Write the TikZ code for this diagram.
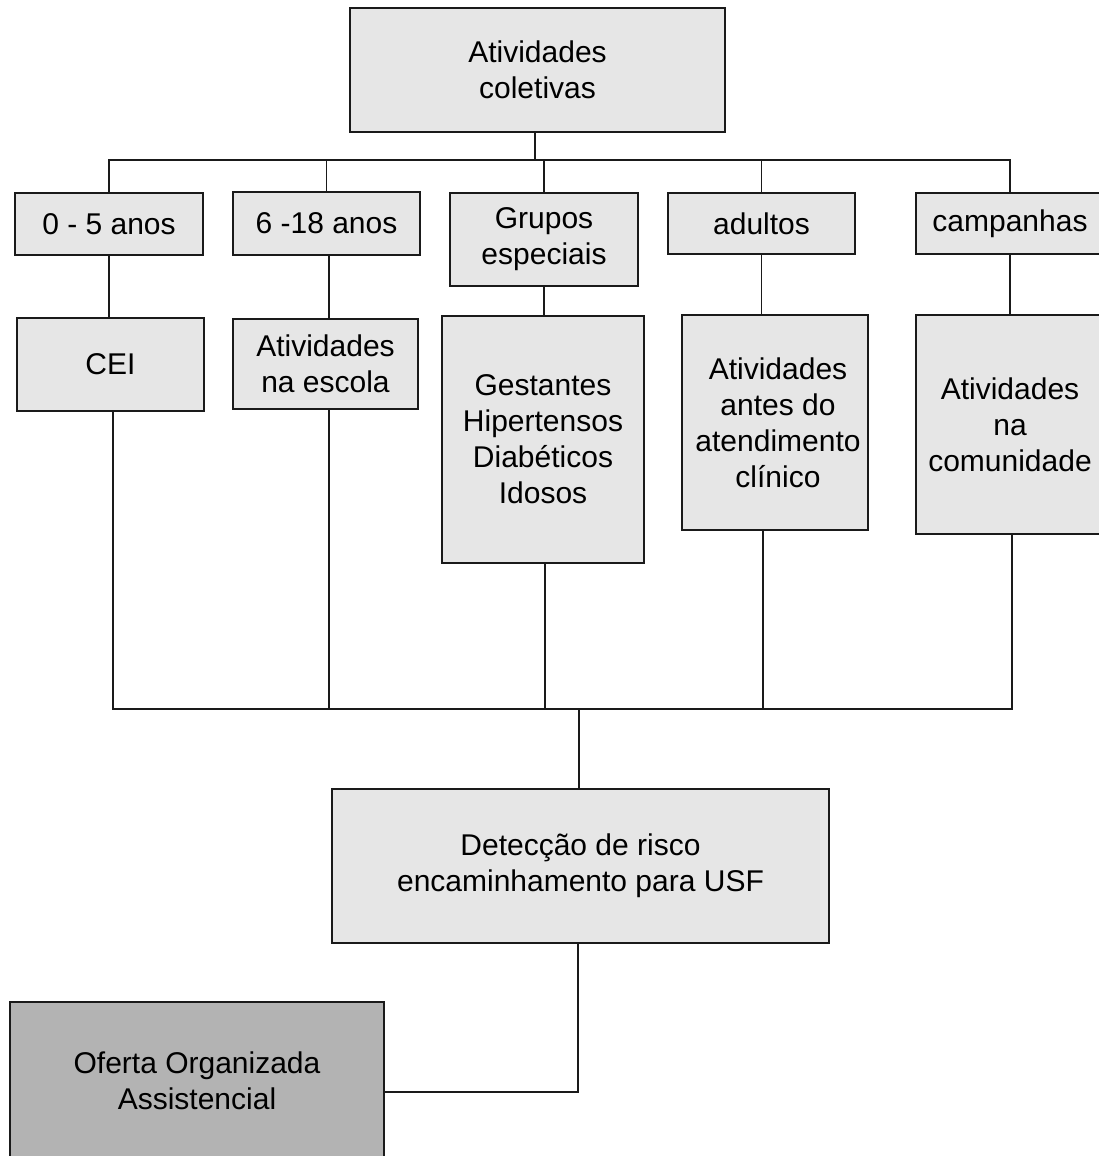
\documentclass[tikz,border=0pt]{standalone}
\usepackage{fontspec}
\setmainfont{Liberation Sans}
\definecolor{boxlight}{HTML}{E6E6E6}
\definecolor{boxdark}{HTML}{B3B3B3}
\definecolor{edge}{HTML}{1A1A1A}
\begin{document}
\begin{tikzpicture}[x=1pt,y=-1pt,
  box/.style={draw=edge,line width=1.8pt,fill=boxlight,inner sep=0pt,outer sep=0pt,
    align=center,font=\fontsize{30}{36}\selectfont},
  darkbox/.style={box,fill=boxdark},
  conn/.style={draw=edge,line width=1.4pt}]
\useasboundingbox (0,0) rectangle (1099,1156);
\clip (0,0) rectangle (1099,1156);
% top
\node[box,minimum width=375pt,minimum height=124pt] (top) at (537.5,70) {Atividades\\coletivas};
% row 2
\node[box,minimum width=188pt,minimum height=62pt] (b05) at (109,224) {0 - 5 anos};
\node[box,minimum width=187pt,minimum height=63pt] (b618) at (326.5,223.5) {6 -18 anos};
\node[box,minimum width=188pt,minimum height=93pt] (grupos) at (544,239.5) {Grupos\\especiais};
\node[box,minimum width=187pt,minimum height=61pt] (adultos) at (761.5,223.5) {adultos};
\node[box,minimum width=188pt,minimum height=61pt] (camp) at (1010,223.5) {campanhas};
% row 3
\node[box,minimum width=187pt,minimum height=93pt] (cei) at (110.5,364.5) {CEI};
\node[box,minimum width=185pt,minimum height=90pt] (escola) at (325.5,364) {Atividades\\na escola};
\node[box,minimum width=202pt,minimum height=247pt] (gest) at (543,439.5) {Gestantes\\Hipertensos\\Diabéticos\\Idosos};
\node[box,minimum width=186pt,minimum height=215pt] (antes) at (775,422.5) {\hspace*{6pt}Atividades\\\hspace*{6pt}antes do\\\hspace*{6pt}atendimento\\\hspace*{6pt}clínico};
\node[box,minimum width=188pt,minimum height=219pt] (comun) at (1010,424.5) {Atividades\\na\\comunidade};
% bottom
\node[box,minimum width=497pt,minimum height=154pt] (det) at (580.5,866) {Detecção de risco\\encaminhamento para USF};
\node[darkbox,minimum width=374pt,minimum height=158pt] (oferta) at (197,1081) {Oferta Organizada\\Assistencial};
% connectors top bus
\coordinate (busTop) at (535,160);
\draw[conn] (busTop |- top.south) -- (busTop);
\draw[conn] (b05.north) |- (busTop) -| (camp.north);
\draw[conn] (b618.north) -- (b618.north |- busTop);
\draw[conn] (grupos.north) -- (grupos.north |- busTop);
\draw[conn] (adultos.north) -- (adultos.north |- busTop);
% row2 to row3
\draw[conn] (b05.south) -- (b05.south |- cei.north);
\draw[conn] ([xshift=2.5pt]b618.south) -- ([xshift=2.5pt]b618.south |- escola.north);
\draw[conn] (grupos.south) -- (grupos.south |- gest.north);
\draw[conn] (adultos.south) -- (adultos.south |- antes.north);
\draw[conn] (camp.south) -- (camp.south |- comun.north);
% bottom bus
\coordinate (busBot) at (579,709);
\draw[conn] ([xshift=2.5pt]cei.south) |- (busBot) -| ([xshift=2pt]comun.south);
\draw[conn] ([xshift=3.5pt]escola.south) -- ([xshift=3.5pt]escola.south |- busBot);
\draw[conn] ([xshift=2pt]gest.south) -- ([xshift=2pt]gest.south |- busBot);
\draw[conn] ([xshift=1.5pt]adultos.south |- antes.south) -- ([xshift=1.5pt]adultos.south |- busBot);
\draw[conn] (busBot) -- (busBot |- det.north);
% detection to oferta
\coordinate (elbow) at (578,1092);
\draw[conn] (elbow |- det.south) -- (elbow) -- (elbow -| oferta.east);
\end{tikzpicture}
\end{document}
